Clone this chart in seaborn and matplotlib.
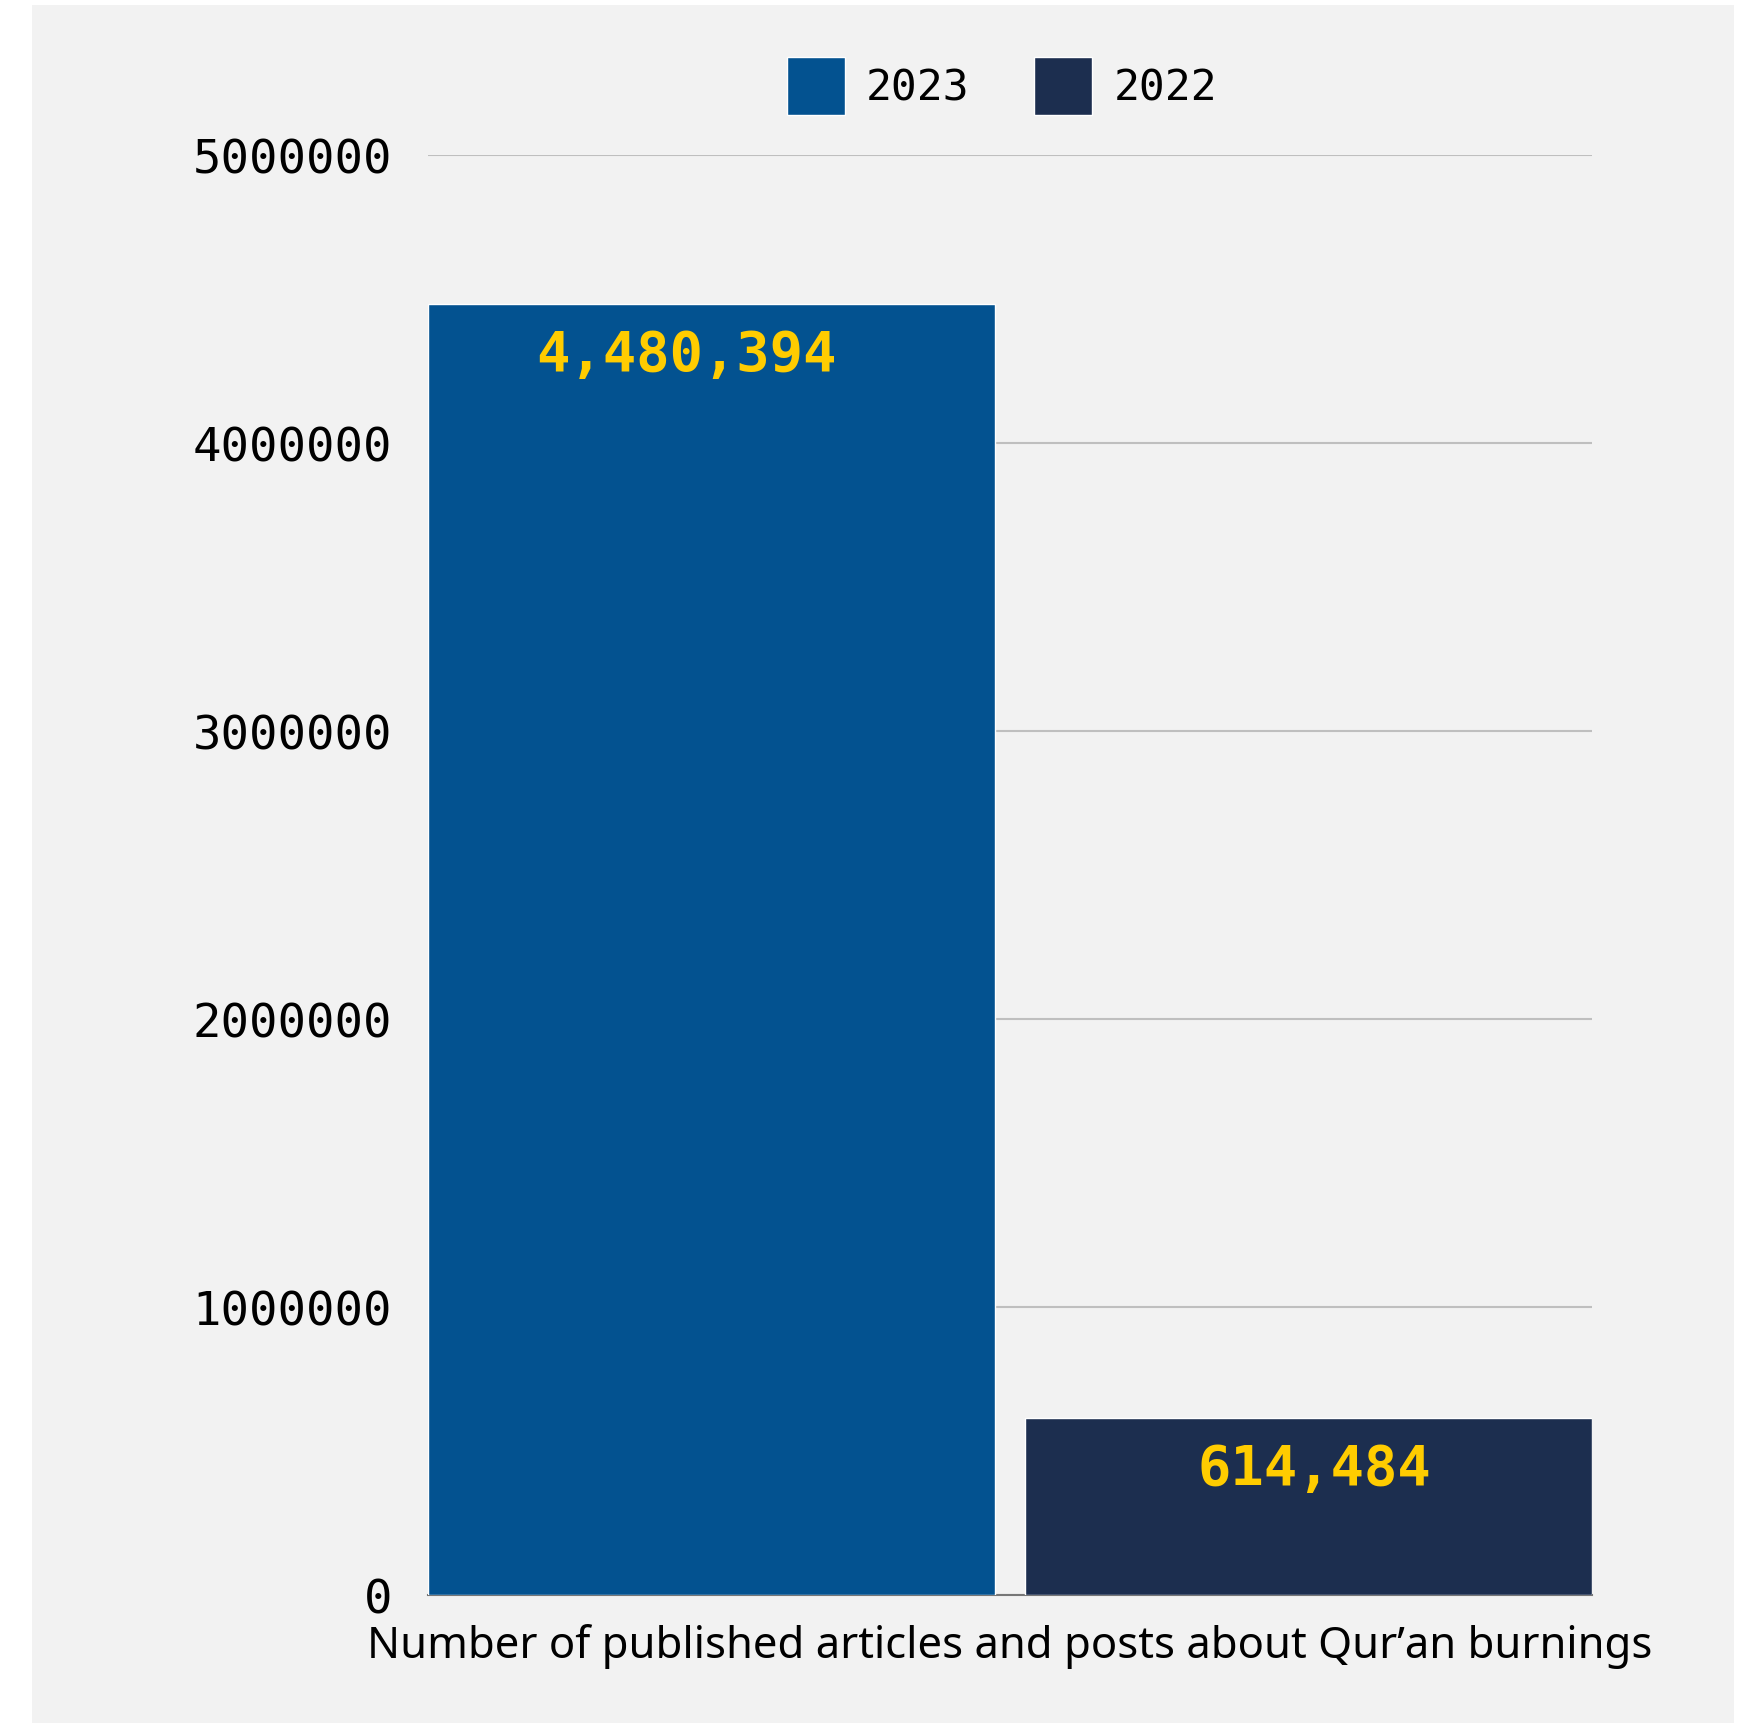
import matplotlib
matplotlib.use("Agg")
import matplotlib.pyplot as plt
from matplotlib.patches import Rectangle
import seaborn as sns
import pandas as pd

# ---- data ----
categories = ["Number of published articles and posts about Qur\u2019an burnings"]
years = ["2023", "2022"]
values = [4480394, 614484]
value_labels = ["4,480,394", "614,484"]
y_ticks = [0, 1000000, 2000000, 3000000, 4000000, 5000000]

colors = {"2023": "#035290", "2022": "#1c2e4f"}
BG = "#f2f2f2"
MONO = "DejaVu Sans Mono"

df = pd.DataFrame({
    "metric": [categories[0]] * len(years),
    "year": years,
    "count": values,
})

sns.set_theme(style="white")
plt.rcParams["font.family"] = ["DejaVu Sans"]
plt.rcParams["text.color"] = "black"
plt.rcParams["xtick.color"] = "black"
plt.rcParams["ytick.color"] = "black"

W, H, DPI = 1745, 1724, 100
fig = plt.figure(figsize=(W / DPI, H / DPI), dpi=DPI)
fig.patch.set_facecolor("white")
fig.patches.append(Rectangle((32 / W, 0), (1734 - 32) / W, 1 - 6 / H,
                             transform=fig.transFigure, facecolor=BG,
                             edgecolor="none", zorder=-10))

ax = fig.add_axes([428 / W, 1 - 1596 / H, (1592 - 428) / W, (1596 - 155.7) / H])
ax.set_facecolor(BG)
ax.patch.set_alpha(0)

sns.barplot(data=df, x="metric", y="count", hue="year", hue_order=years,
            palette=colors, width=0.8, gap=0.05, saturation=1,
            ax=ax, zorder=3)

ax.set_xlim(-0.39, 0.39)
ax.set_ylim(0, 5000000)
ax.set_yticks(y_ticks)
ax.set_yticklabels([str(t) for t in y_ticks], fontfamily=MONO, fontsize=34,
                   color="black")
ax.yaxis.grid(True, color="#bfbfbf", linewidth=1.5, zorder=0)
ax.set_axisbelow(True)
ax.tick_params(axis="y", length=0, pad=26, labelcolor="black")
ax.tick_params(axis="x", length=0, pad=20, labelcolor="black")
for lbl in ax.get_xticklabels():
    lbl.set_fontfamily("Noto Sans")
    lbl.set_fontsize(31.4)
    lbl.set_color("black")
ax.set_xlabel("")
ax.set_ylabel("")
for s in ["top", "right", "left"]:
    ax.spines[s].set_visible(False)
ax.spines["bottom"].set_color("#777777")
ax.spines["bottom"].set_linewidth(1.5)
ax.spines["bottom"].set_zorder(2)

# value labels inside the bars
dx = [-18, 4]
for cont, lab, off in zip(ax.containers, value_labels, dx):
    for bar in cont:
        ax.annotate(lab, (bar.get_x() + bar.get_width() / 2, bar.get_height()),
                    xytext=(off, -17), textcoords="offset points",
                    ha="center", va="top", color="#ffcc00",
                    fontfamily=MONO, fontweight="bold", fontsize=40, zorder=5)

leg = ax.legend(loc="center",
                bbox_to_anchor=(0.5 - 8 / 1164, 1 + (155.7 - 87) / (1596 - 155.7)),
                ncol=2, frameon=False, prop={"family": MONO, "size": 31},
                handlelength=1.35, handleheight=1.72, handletextpad=0.5,
                columnspacing=1.5, borderaxespad=0, labelcolor="black")

fig.savefig("out.png", dpi=DPI, facecolor=fig.get_facecolor())
